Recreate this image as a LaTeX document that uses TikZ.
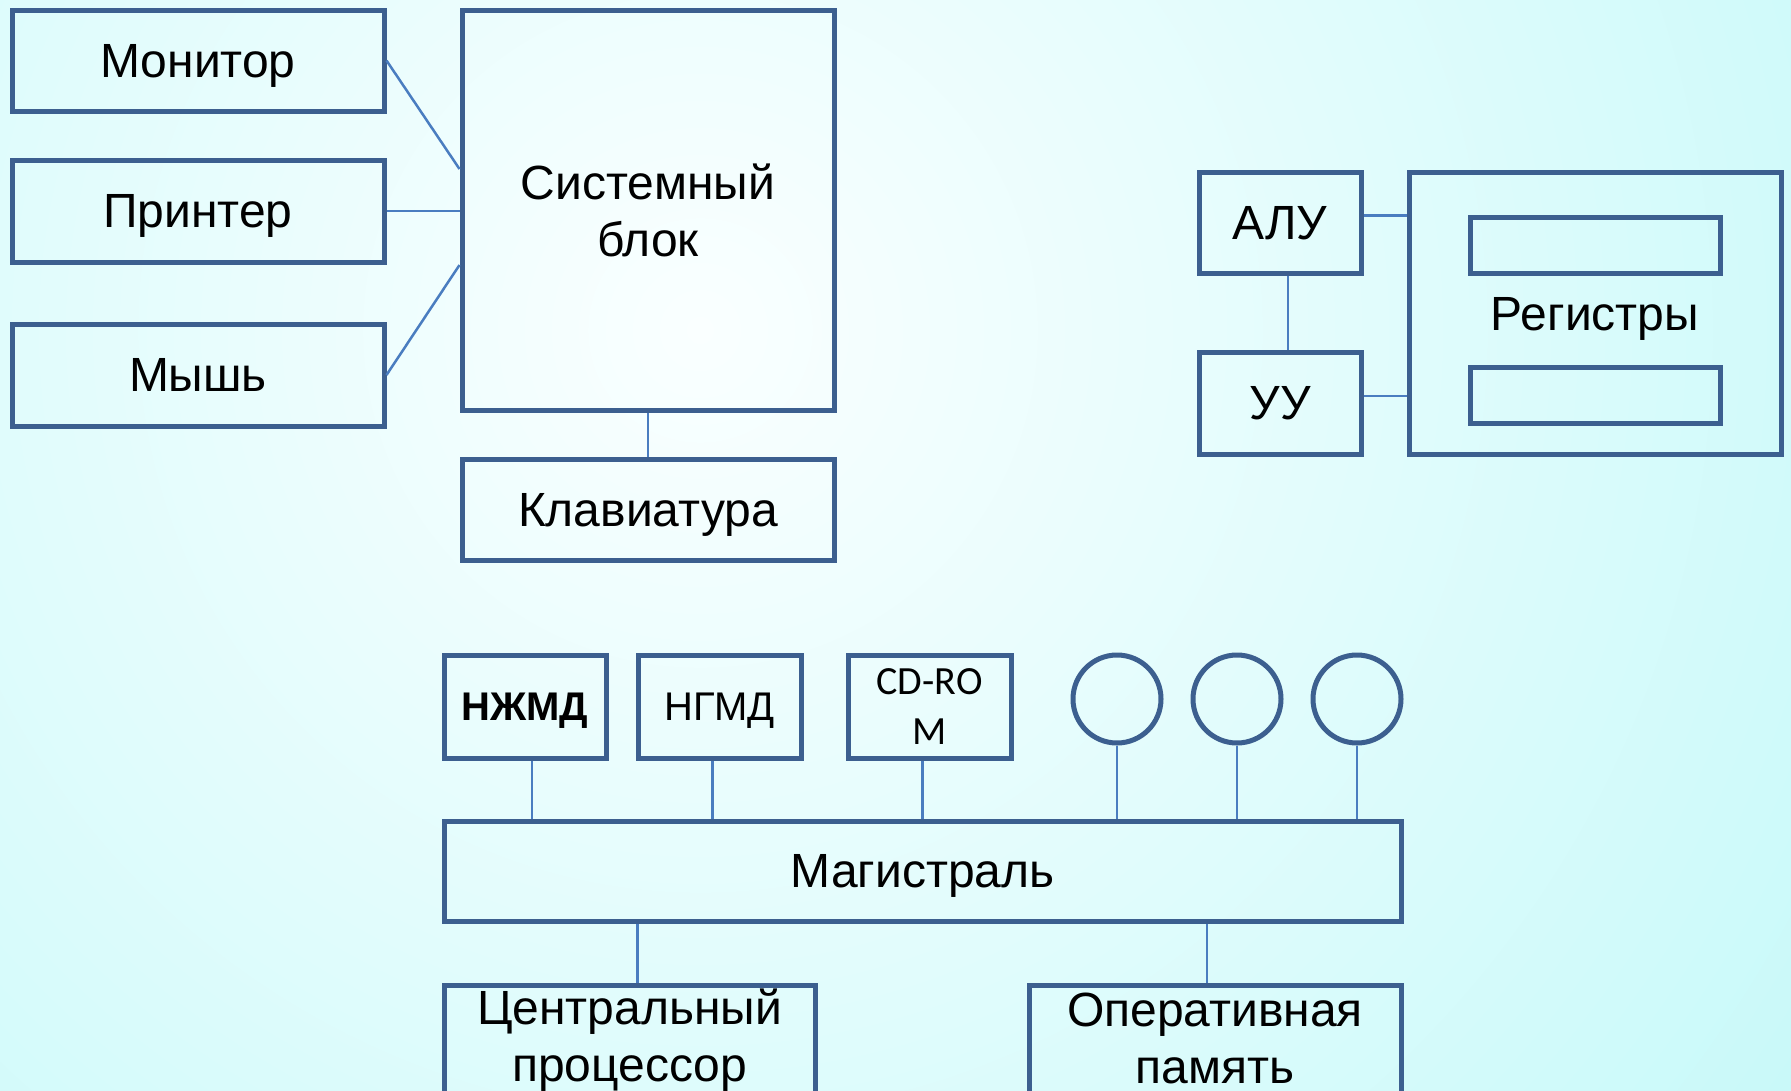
\documentclass[tikz,border=0pt]{standalone}
\usepackage{fontspec}
\setmainfont{Liberation Sans}
\newfontfamily\calfont{Carlito}
\definecolor{boxc}{HTML}{3C5F8F}
\definecolor{linec}{HTML}{4A7DC0}
\definecolor{bgin}{HTML}{FAFFFF}
\definecolor{bgout}{HTML}{C8F9F9}
\tikzset{
  box/.style={draw=boxc, line width=5pt, rectangle, inner sep=0pt, align=center,
    font=\fontsize{48}{57}\selectfont},
  oneline/.style={text depth=0pt},
  ring/.style={draw=boxc, line width=5pt, circle, inner sep=0pt, minimum size=88pt},
  conn/.style={draw=linec, line width=2.5pt},
}
\newcommand{\bx}[7]{%
  \pgfmathsetmacro{\bw}{#4-#2}\pgfmathsetmacro{\bh}{#5-#3}%
  \pgfmathsetmacro{\cx}{(#2+#4)/2}\pgfmathsetmacro{\cy}{(#3+#5)/2}%
  \node[box, minimum width=\bw pt, minimum height=\bh pt, #6] (#1) at (\cx,\cy) {#7};}
\begin{document}
\begin{tikzpicture}[x=1pt,y=-1pt]
\useasboundingbox (0,0) rectangle (1791,1090);
\clip (0,0) rectangle (1791,1090);
\shade[inner color=bgin, outer color=bgout] (700,330) circle (1350);
% top-left group
\bx{mon}{12}{10}{384}{111}{oneline}{Монитор}
\bx{prn}{12}{160}{384}{262}{oneline}{Принтер}
\bx{mouse}{12}{324}{384}{426}{oneline}{Мышь}
\bx{sys}{462}{10}{834}{410}{}{Системный\\блок}
\bx{kbd}{462}{459}{834}{560}{oneline}{Клавиатура}
\draw[conn] (mon.east) -- ([yshift=41pt]sys.west);
\draw[conn] (prn.east) -- (prn.east -| sys.west);
\draw[conn] (mouse.east) -- ([yshift=-55pt]sys.west);
\draw[conn] (sys.south) -- (kbd.north);
% top-right group
\bx{alu}{1199}{172}{1361}{273}{oneline}{АЛУ}
\bx{uu}{1199}{352}{1361}{454}{oneline}{УУ}
\bx{reg}{1409}{172}{1781}{454}{}{}
\bx{rega}{1470}{217}{1720}{273}{}{}
\bx{regb}{1470}{367}{1720}{423}{}{}
\node[font=\fontsize{48}{57}\selectfont, oneline, inner sep=0pt] (regt) at (1595,314) {Регистры};
\draw[conn] ([xshift=8pt]alu.south) -- ([xshift=8pt]uu.north);
\draw[conn] ([yshift=7pt]alu.east) -- ([yshift=7pt]alu.east -| reg.west);
\draw[conn] ([yshift=7pt]uu.east) -- ([yshift=7pt]uu.east -| reg.west);
% bottom group
\bx{hdd}{444}{655}{606}{758}{oneline, font=\fontsize{40}{48}\selectfont\bfseries}{НЖМД}
\bx{fdd}{638}{655}{801}{758}{oneline, font=\fontsize{40}{48}\selectfont}{НГМД}
\bx{cd}{848}{655}{1011}{758}{font=\calfont\fontsize{40}{50}\selectfont}{CD-RO\\M}
\node[ring] (c1) at (1117,699) {};
\node[ring] (c2) at (1237,699) {};
\node[ring] (c3) at (1357,699) {};
\bx{bus}{444}{821}{1401}{921}{oneline}{Магистраль}
\bx{cpu}{444}{985}{815}{1096}{}{Центральный\\процессор}
\bx{ram}{1029}{985}{1401}{1096}{}{\raisebox{4.5pt}{Оперативная}\\\raisebox{4.5pt}{память}}
\draw[conn] ([xshift=7pt]hdd.south) -- ([xshift=7pt]hdd.south |- bus.north);
\draw[conn] ([xshift=-7pt]fdd.south) -- ([xshift=-7pt]fdd.south |- bus.north);
\draw[conn] ([xshift=-7pt]cd.south) -- ([xshift=-7pt]cd.south |- bus.north);
\draw[conn] (c1.south) -- (c1.south |- bus.north);
\draw[conn] (c2.south) -- (c2.south |- bus.north);
\draw[conn] (c3.south) -- (c3.south |- bus.north);
\draw[conn] ([xshift=8pt]cpu.north) -- ([xshift=8pt]cpu.north |- bus.south);
\draw[conn] ([xshift=-8pt]ram.north) -- ([xshift=-8pt]ram.north |- bus.south);
\end{tikzpicture}
\end{document}
